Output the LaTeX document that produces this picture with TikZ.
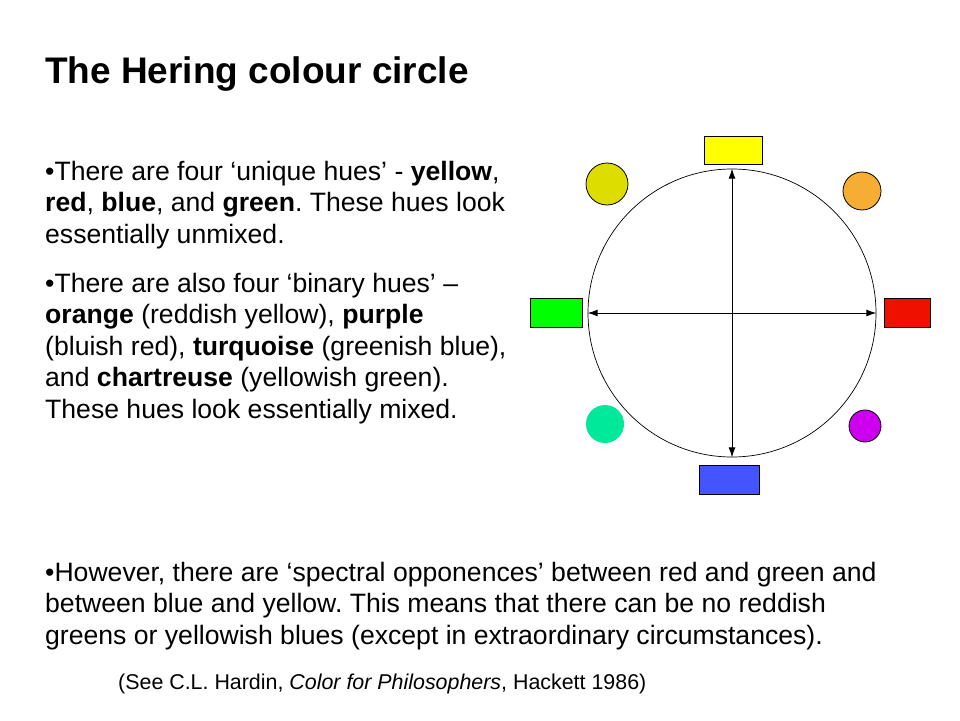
\documentclass[tikz,border=0pt]{standalone}
\usepackage{fontspec}
\setmainfont{Liberation Sans}
\usetikzlibrary{arrows.meta}
\frenchspacing

\definecolor{huey}{HTML}{FFFF00}
\definecolor{huer}{HTML}{EE1100}
\definecolor{hueb}{HTML}{4455FF}
\definecolor{hueg}{HTML}{00FF00}
\definecolor{hueo}{HTML}{F5AE33}
\definecolor{huep}{HTML}{CC00EE}
\definecolor{huet}{HTML}{00E899}
\definecolor{huec}{HTML}{DDDD00}

\begin{document}
\begin{tikzpicture}[>={Latex[length=10pt,width=7pt]},x=1pt,y=-1pt,
    unique/.style={draw,line width=0.8pt,rectangle,inner sep=0pt,minimum height=29pt},
    binary/.style={draw,line width=0.8pt,circle,inner sep=0pt},
    body/.style={anchor=base west,inner sep=0pt,align=left,font=\fontsize{26.6}{31.5}\selectfont}]
    \useasboundingbox[fill=white] (0,0) rectangle (960,720);
    % title and text (base = baseline of last line)
    \node[anchor=base west,inner sep=0pt,font=\fontsize{37}{40}\selectfont\bfseries] (title) at (45,83) {The Hering colour circle};
    \node[body] (unique) at (45,243) {•There are four ‘unique hues’ - \textbf{yellow},\\
        \textbf{red}, \textbf{blue}, and \textbf{green}. These hues look\\
        essentially unmixed.};
    \node[body] (binary) at (45,418) {•There are also four ‘binary hues’ –\\
        \textbf{orange} (reddish yellow), \textbf{purple}\\
        (bluish red), \textbf{turquoise} (greenish blue),\\
        and \textbf{chartreuse} (yellowish green).\\
        These hues look essentially mixed.};
    \node[body] (opponent) at (45,644) {•However, there are ‘spectral opponences’ between red and green and\\
        between blue and yellow. This means that there can be no reddish\\
        greens or yellowish blues (except in extraordinary circumstances).};
    \node[anchor=base west,inner sep=0pt,font=\fontsize{21.4}{25}\selectfont] (hardin) at (118,689) {(See C.L. Hardin, \textit{Color for Philosophers}, Hackett 1986)};
    % the circle
    \node[draw,line width=0.7pt,circle,inner sep=0pt,minimum size=288pt] (wheel) at (732,313) {};
    \draw[<->,line width=1pt] (wheel.north) -- (wheel.south);
    \draw[<->,line width=1pt] (wheel.west) -- (wheel.east);
    % unique hues
    \node[unique,fill=huey,minimum width=58pt,minimum height=28pt] (yellow) at (733,150) {};
    \node[unique,fill=huer,minimum width=46pt] (red) at (907,313) {};
    \node[unique,fill=hueb,minimum width=60pt] (blue) at (729,480) {};
    \node[unique,fill=hueg,minimum width=52pt] (green) at (556,313) {};
    % binary hues
    \node[binary,fill=huec,minimum size=42pt] (chartreuse) at (607,184) {};
    \node[binary,fill=hueo,minimum size=38pt] (orange) at (862,191) {};
    \node[binary,fill=huep,minimum size=32pt] (purple) at (865,426) {};
    \node[binary,draw=none,fill=huet,minimum size=38pt] (turquoise) at (605,424) {};
\end{tikzpicture}
\end{document}
